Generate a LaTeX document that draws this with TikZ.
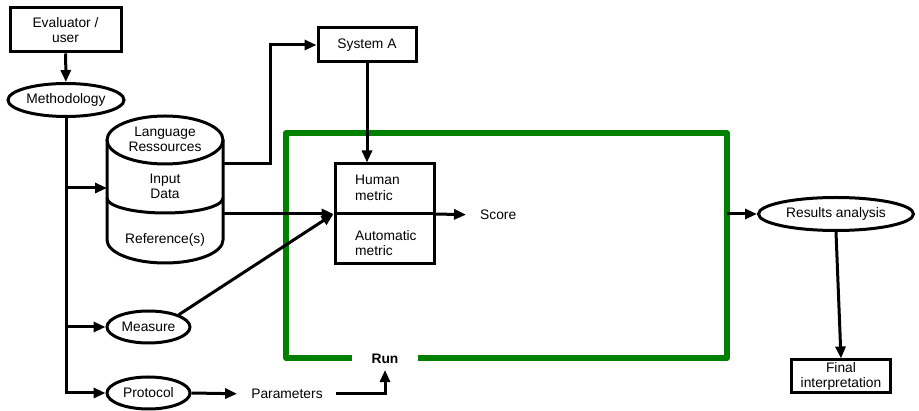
\documentclass[tikz,border=0pt]{standalone}
\usepackage{fontspec}
\setmainfont{Liberation Sans}
\usetikzlibrary{shapes.geometric,arrows.meta}
\definecolor{runGreen}{RGB}{0,128,0}

\begin{document}
\begin{tikzpicture}[x=1pt,y=-1pt,
  >={Triangle[length=12pt,width=10pt]},
  every node/.style={font=\fontsize{13.8}{15.5}\selectfont, align=center, inner sep=0pt},
  box/.style={draw, rectangle, line width=3pt},
  oval/.style={draw, ellipse, line width=3pt, minimum height=33pt},
  link/.style={line width=3pt}]
\useasboundingbox (0,0) rectangle (919,411);

% left column
\node[box, minimum width=111pt, minimum height=44pt] (eval) at (65.5,30) {Evaluator /\\user};
\node[oval, minimum width=116pt] (meth) at (66,100) {Methodology};
\node[oval, minimum width=83pt, minimum height=32pt] (meas) at (148.5,327) {Measure};
\node[oval, minimum width=83pt, minimum height=32pt] (prot) at (148.5,393) {Protocol};
\node (param) at (287,394) {Parameters};

% language ressources
\draw[link] (165,140) ellipse [x radius=58, y radius=24];
\draw[link] (107,140) -- (107,240) arc[start angle=180, end angle=0, x radius=58, y radius=23] -- (223,140);
\draw[link] (107,198) arc[start angle=180, end angle=0, x radius=58, y radius=15];
\node (lr) at (165,139.5) {Language\\Ressources};
\node (data) at (165,186.5) {Input\\Data};
\node (refs) at (165,240) {Reference(s)};
\coordinate (dbL) at (107,188);
\coordinate (dbA) at (223,164);
\coordinate (dbB) at (223,214);

% system and metrics
\node[box, minimum width=98pt, minimum height=34pt] (sysA) at (367,45) {System A};
\node[box, minimum width=99pt, minimum height=100pt] (metric) at (384.5,214) {};
\node[anchor=west, align=left] (human) at (355,188) {Human\\metric};
\node[anchor=west, align=left] (auto) at (355,243) {Automatic\\metric};
\node[anchor=west] (score) at (480,215) {Score};
\node[font=\fontsize{13.8}{15.5}\selectfont\bfseries] (run) at (385,359) {Run};

% run frame
\draw[runGreen, line width=5.5pt, line join=round] (352,358) -- (286,358) -- (286,133) -- (727,133) -- (727,358) -- (418,358);
\coordinate (frameE) at (727,214);

% results
\node[oval, minimum width=155pt] (res) at (836,214) {Results analysis};
\node[box, minimum width=99pt, minimum height=33pt] (final) at (841,376.5) {Final\\interpretation};

% connectors
\draw[link,->] (eval) -- (meth);
\draw[link,->] (meth.south) |- (prot.west);
\draw[link,->] (meth.south |- dbL) -- (dbL);
\draw[link,->] (meth.south |- meas.west) -- (meas.west);
\draw[link,->] (dbA) -- ++(47,0) |- (sysA.west);
\draw[link,->] (sysA.south) -- (sysA.south |- metric.north);
\draw[link,->] (dbB) -- (metric.west);
\draw[link,->] (meas.north east) -- (metric.west);
\draw[link] (metric.west) -- (metric.east);
\draw[link,->,shorten >=14pt] (metric.east) -- (score.west);
\draw[link,->,shorten >=14pt] (prot.east) -- (param.west);
\draw[link,->,shorten <=13pt,shorten >=6pt] (param.east) -| (run.south);
\draw[link,->] (frameE) -- (res.west);
\draw[link,->] (res.south) -- (final.north);
\end{tikzpicture}
\end{document}
